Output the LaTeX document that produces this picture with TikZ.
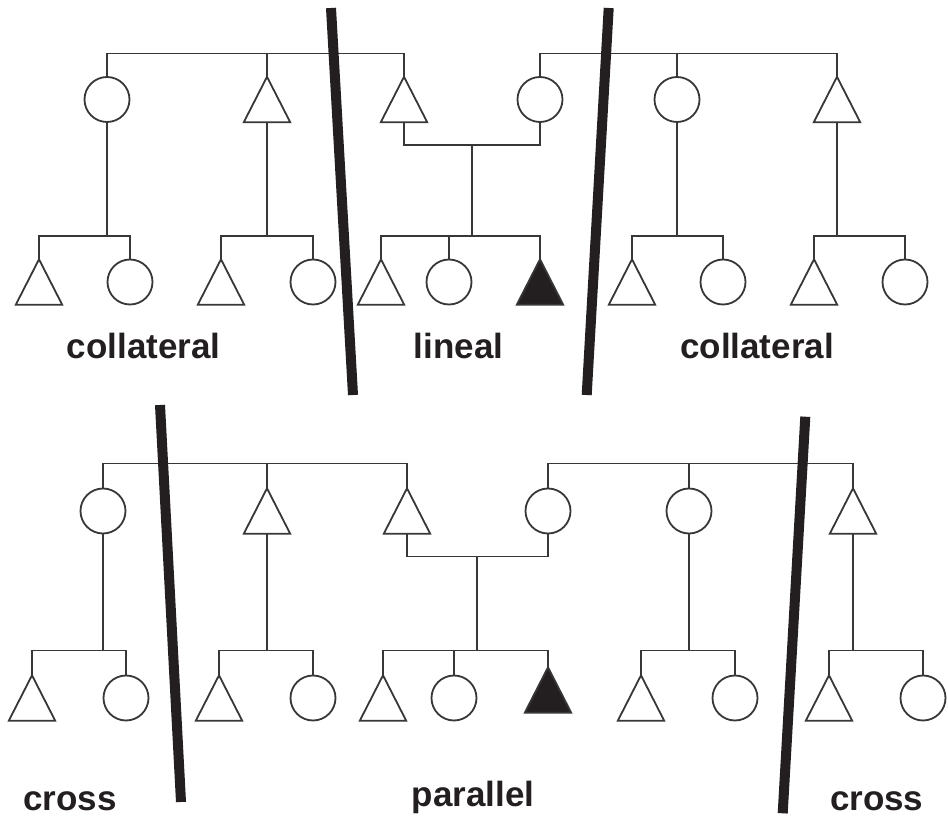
\documentclass[tikz,border=0pt]{standalone}
\usepackage{fontspec}
\setmainfont{Liberation Sans}
\definecolor{linec}{RGB}{55,55,55}
\definecolor{ink}{RGB}{35,31,32}
\tikzset{
  kin/.style={line width=1.8pt, draw=linec},
  fem/.style={circle, draw=linec, line width=1.8pt, minimum size=45pt, inner sep=0pt},
  mbox/.style={rectangle, minimum width=46pt, minimum height=45pt, inner sep=0pt},
  divider/.style={line width=10pt, draw=ink, line cap=butt},
  lbl/.style={font=\fontsize{35}{42}\selectfont\bfseries, text=ink, anchor=base, inner sep=0pt},
}
\newcommand\maletri[3]{\node[mbox] (#1) at (#2,#3) {};
  \draw[kin, line join=miter] (#1.north) -- (#1.south east) -- (#1.south west) -- cycle;}
\newcommand\egotri[3]{\node[mbox] (#1) at (#2,#3) {};
  \draw[kin, fill=ink, line join=miter] (#1.north) -- (#1.south east) -- (#1.south west) -- cycle;}
\begin{document}
\begin{tikzpicture}[x=1pt,y=-1pt]
\useasboundingbox (0,0) rectangle (948,818);

% ---------- TOP DIAGRAM ----------
\coordinate (ts) at (0,53.5);
\coordinate (tu) at (472,145);
\coordinate (tc) at (0,236);
\node[fem] (tF1) at (107,99.5) {};
\maletri{tM1}{267}{99.5}
\maletri{tM2}{404}{99.5}
\node[fem] (tF2) at (540,99.5) {};
\node[fem] (tF3) at (677,99.5) {};
\maletri{tM3}{837}{99.5}
% children
\maletri{ta1}{39}{282}   \node[fem] (ta2) at (130,282) {};
\maletri{tb1}{221}{282}  \node[fem] (tb2) at (313,282) {};
\maletri{tc1}{381}{282}  \node[fem] (tc2) at (449,282) {};
\egotri{tc3}{540}{282}
\maletri{td1}{632}{282}  \node[fem] (td2) at (723,282) {};
\maletri{te1}{814}{282}  \node[fem] (te2) at (905,282) {};
% sibling lines
\draw[kin] (tF1.north) |- (ts -| tM2) -- (tM2.north);
\draw[kin] (tM1.north) -- (ts -| tM1);
\draw[kin] (tF2.north) |- (ts -| tM3) -- (tM3.north);
\draw[kin] (tF3.north) -- (ts -| tF3);
% marriage and descent
\draw[kin] (tM2.south) |- (tu -| tF2) -- (tF2.south);
\draw[kin] (tu) -- (tu |- tc);
\draw[kin] (tF1.south) -- (tc -| tF1);
\draw[kin] (tM1.south) -- (tc -| tM1);
\draw[kin] (tF3.south) -- (tc -| tF3);
\draw[kin] (tM3.south) -- (tc -| tM3);
% children lines
\draw[kin] (ta1.north) |- (tc -| ta2) -- (ta2.north);
\draw[kin] (tb1.north) |- (tc -| tb2) -- (tb2.north);
\draw[kin] (tc1.north) |- (tc -| tc3) -- (tc3.north);
\draw[kin] (tc2.north) -- (tc -| tc2);
\draw[kin] (td1.north) |- (tc -| td2) -- (td2.north);
\draw[kin] (te1.north) |- (tc -| te2) -- (te2.north);

% ---------- BOTTOM DIAGRAM ----------
\coordinate (bs) at (0,463.5);
\coordinate (bu) at (477,556.5);
\coordinate (bc) at (0,650.5);
\node[fem] (bF1) at (103,511) {};
\maletri{bM1}{267}{511}
\maletri{bM2}{407}{511}
\node[fem] (bF2) at (548,511) {};
\node[fem] (bF3) at (689,511) {};
\maletri{bM3}{853}{511}
% children
\maletri{ba1}{32}{698}   \node[fem] (ba2) at (126,698) {};
\maletri{bb1}{219}{698}  \node[fem] (bb2) at (313,698) {};
\maletri{bc1}{383}{698}  \node[fem] (bc2) at (454,698) {};
\egotri{bc3}{548}{690}
\maletri{bd1}{641}{698}  \node[fem] (bd2) at (735,698) {};
\maletri{be1}{829}{698}  \node[fem] (be2) at (923,698) {};
% sibling lines
\draw[kin] (bF1.north) |- (bs -| bM2) -- (bM2.north);
\draw[kin] (bM1.north) -- (bs -| bM1);
\draw[kin] (bF2.north) |- (bs -| bM3) -- (bM3.north);
\draw[kin] (bF3.north) -- (bs -| bF3);
% marriage and descent
\draw[kin] (bM2.south) |- (bu -| bF2) -- (bF2.south);
\draw[kin] (bu) -- (bu |- bc);
\draw[kin] (bF1.south) -- (bc -| bF1);
\draw[kin] (bM1.south) -- (bc -| bM1);
\draw[kin] (bF3.south) -- (bc -| bF3);
\draw[kin] (bM3.south) -- (bc -| bM3);
% children lines
\draw[kin] (ba1.north) |- (bc -| ba2) -- (ba2.north);
\draw[kin] (bb1.north) |- (bc -| bb2) -- (bb2.north);
\draw[kin] (bc1.north) |- (bc -| bc3) -- (bc3.north);
\draw[kin] (bc2.north) -- (bc -| bc2);
\draw[kin] (bd1.north) |- (bc -| bd2) -- (bd2.north);
\draw[kin] (be1.north) |- (bc -| be2) -- (be2.north);

% ---------- DIVIDERS ----------
\coordinate (d1a) at (331,8);     \coordinate (d1b) at (353,395);
\coordinate (d2a) at (608.7,8);   \coordinate (d2b) at (586.7,395);
\coordinate (d3a) at (160,405);   \coordinate (d3b) at (181,802);
\coordinate (d4a) at (805.3,416.7); \coordinate (d4b) at (782.7,813.3);
\draw[divider] (d1a) -- (d1b);
\draw[divider] (d2a) -- (d2b);
\draw[divider] (d3a) -- (d3b);
\draw[divider] (d4a) -- (d4b);

% ---------- LABELS ----------
\node[lbl] (l1) at (143.7,358.3) {collateral};
\node[lbl] (l2) at (458.5,358.3) {lineal};
\node[lbl] (l3) at (757,358.3) {collateral};
\node[lbl] (l4) at (70,810) {cross};
\node[lbl] (l5) at (473,806) {parallel};
\node[lbl] (l6) at (876.7,810) {cross};
\end{tikzpicture}
\end{document}
